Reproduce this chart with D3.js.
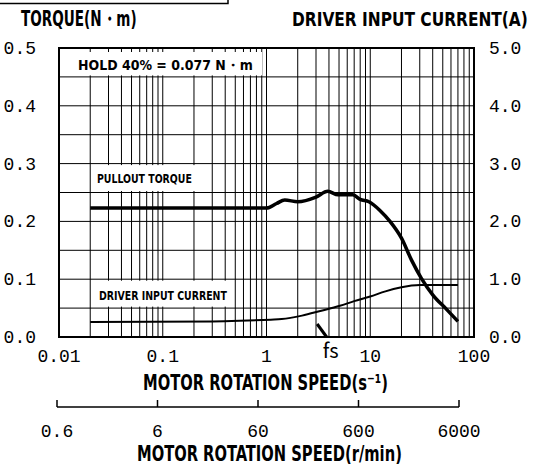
<!DOCTYPE html>
<html>
<head>
<meta charset="utf-8">
<script src="https://cdn.jsdelivr.net/npm/d3@7"></script>
<style>
  html, body { margin: 0; padding: 0; background: #fff; }
  svg { display: block; }
  .bold { font-family: "Liberation Sans Narrow", "DejaVu Sans Condensed", "Liberation Sans", sans-serif; font-weight: bold; }
  .num { font-family: "Liberation Mono", "DejaVu Sans Mono", monospace; }
</style>
</head>
<body>
<svg id="chart" width="539" height="470"></svg>
<script>
// Speed–torque characteristics (speed in s^-1)
const torqueSpeed = [0.02, 1.0, 1.25, 1.5, 2.0, 3.0, 3.9, 4.9, 6.8, 8.0, 9.7, 12.4, 15.5, 20, 25, 31, 40, 55, 70];
const torqueValue = [0.223, 0.223, 0.231, 0.237, 0.234, 0.242, 0.252, 0.246, 0.246, 0.238, 0.234, 0.219, 0.200, 0.171, 0.133, 0.102, 0.073, 0.047, 0.027];

// Driver input current (A)
const currentSpeed = [0.02, 0.3, 0.55, 1.1, 1.4, 2.2, 3.3, 5.1, 7, 10, 14, 20, 25, 30, 70];
const currentValue = [0.26, 0.27, 0.28, 0.30, 0.31, 0.37, 0.45, 0.54, 0.62, 0.70, 0.79, 0.86, 0.89, 0.90, 0.90];

// Axis ticks
const speedTicks = [0.01, 0.1, 1, 10, 100];
const speedTickLabels = ["0.01", "0.1", "1", "10", "100"];
const torqueTicks = [0, 0.1, 0.2, 0.3, 0.4, 0.5];
const currentTicks = [0, 1, 2, 3, 4, 5];
const rpmTicks = [0.6, 6, 60, 600, 6000];
const fsSpeed = 3.8;
const holdText = "HOLD 40% = 0.077 N・m";

const svg = d3.select("#chart");
const L = 59, R = 474, T = 48, B = 337;

const x = d3.scaleLog().domain([0.01, 100]).range([L, R]);
const y = d3.scaleLinear().domain([0, 0.5]).range([B, T]);
const yR = d3.scaleLinear().domain([0, 5]).range([B, T]);
const xr = d3.scaleLog().domain([0.6, 6000]).range([57, 459]);

// Condensed bold text: drawn at full size, then squeezed horizontally to a target width
function condensed(parent, text, tx, ty, size, width) {
  const g = parent.append("g");
  const t = g.append("text").attr("class", "bold").attr("font-size", size).text(text);
  const natural = t.node().getComputedTextLength();
  g.attr("transform", `translate(${tx},${ty}) scale(${width / natural},1)`);
  return t;
}

// grid
const vGrid = [];
[0.01, 0.1, 1, 10].forEach(d => { for (let k = 2; k <= 9; k++) vGrid.push(d * k); });
[0.1, 1, 10].forEach(v => vGrid.push(v));
const hGrid = d3.range(1, 10).map(i => i * 0.05);

const grid = svg.append("g");
grid.selectAll("line.v").data(vGrid).join("line")
  .attr("x1", d => x(d)).attr("x2", d => x(d))
  .attr("y1", T).attr("y2", B)
  .attr("stroke", "#000").attr("stroke-width", 1);
grid.selectAll("line.h").data(hGrid).join("line")
  .attr("x1", L).attr("x2", R)
  .attr("y1", d => y(d)).attr("y2", d => y(d))
  .attr("stroke", "#000").attr("stroke-width", 1);

// in-plot labels on white panels
const labels = svg.append("g");
labels.append("rect").attr("x", L).attr("y", 52).attr("width", 262 - L).attr("height", y(0.45) - 1.5 - 52).attr("fill", "#fff");
condensed(labels, holdText, 78, 69.5, 14, 175);
labels.append("rect").attr("x", 92).attr("y", y(0.3) + 1.5).attr("width", 106).attr("height", y(0.25) - y(0.3) - 3).attr("fill", "#fff");
condensed(labels, "PULLOUT TORQUE", 97, 182.5, 13, 95);
labels.append("rect").attr("x", 92).attr("y", y(0.1) + 1.5).attr("width", 140).attr("height", y(0.05) - y(0.1) - 3).attr("fill", "#fff");
condensed(labels, "DRIVER INPUT CURRENT", 99, 299.5, 13, 128);

// curves
const line = d3.line().curve(d3.curveMonotoneX);
svg.append("path")
  .attr("d", line(currentSpeed.map((s, i) => [x(s), yR(currentValue[i])])))
  .attr("fill", "none").attr("stroke", "#000").attr("stroke-width", 2);
svg.append("path")
  .attr("d", line(torqueSpeed.map((s, i) => [x(s), y(torqueValue[i])])))
  .attr("fill", "none").attr("stroke", "#000").attr("stroke-width", 3.5)
  .attr("stroke-linejoin", "round");

// frame
svg.append("rect").attr("x", L).attr("y", T).attr("width", R - L).attr("height", B - T)
  .attr("fill", "none").attr("stroke", "#000").attr("stroke-width", 2);

// fs marker
svg.append("line")
  .attr("x1", x(fsSpeed) - 9.5).attr("y1", B - 13)
  .attr("x2", x(fsSpeed)).attr("y2", B)
  .attr("stroke", "#000").attr("stroke-width", 3);
svg.append("text").attr("x", x(fsSpeed) + 4).attr("y", 358)
  .attr("text-anchor", "middle")
  .attr("font-family", "'Noto Sans CJK JP', 'DejaVu Sans', sans-serif")
  .attr("font-size", 20).text("fs");

// tick labels
svg.append("g").selectAll("text").data(torqueTicks).join("text")
  .attr("class", "num").attr("font-size", 18)
  .attr("x", 36).attr("y", d => y(d) + 6).attr("text-anchor", "end")
  .text(d => d.toFixed(1));
svg.append("g").selectAll("text").data(currentTicks).join("text")
  .attr("class", "num").attr("font-size", 18)
  .attr("x", 489).attr("y", d => yR(d) + 6).attr("text-anchor", "start")
  .text(d => d.toFixed(1));
svg.append("g").selectAll("text").data(speedTicks).join("text")
  .attr("class", "num").attr("font-size", 18)
  .attr("x", d => x(d)).attr("y", 362).attr("text-anchor", "middle")
  .text((d, i) => speedTickLabels[i]);

// axis titles
condensed(svg, "TORQUE(N・m)", 21, 26, 21, 116);
condensed(svg, "DRIVER INPUT CURRENT(A)", 292, 26, 20, 236);
condensed(svg, "MOTOR ROTATION SPEED(s⁻¹)", 143, 390, 21, 245);

// secondary speed axis (r/min)
const rAxis = svg.append("g").attr("transform", "translate(0,407)");
rAxis.append("line").attr("x1", xr(0.6)).attr("x2", xr(6000)).attr("stroke", "#000").attr("stroke-width", 1.5);
rAxis.selectAll("line.t").data(rpmTicks).join("line")
  .attr("x1", d => xr(d)).attr("x2", d => xr(d)).attr("y1", 0).attr("y2", -7)
  .attr("stroke", "#000").attr("stroke-width", 1.5);
svg.append("g").selectAll("text").data(rpmTicks).join("text")
  .attr("class", "num").attr("font-size", 18)
  .attr("x", d => xr(d)).attr("y", 437).attr("text-anchor", "middle")
  .text(d => String(d));
condensed(svg, "MOTOR ROTATION SPEED(r/min)", 137, 461, 21, 265);

// header box
svg.append("rect").attr("x", -1).attr("y", -10).attr("width", 229).attr("height", 13.5)
  .attr("fill", "none").attr("stroke", "#000").attr("stroke-width", 1.5);
</script>
</body>
</html>
